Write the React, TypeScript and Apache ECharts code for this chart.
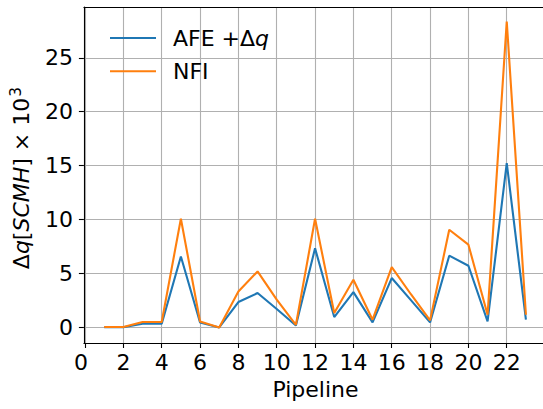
import React, { useEffect, useRef } from "react";
import * as echarts from "echarts";

const pipelines = [1, 2, 3, 4, 5, 6, 7, 8, 9, 10, 11, 12, 13, 14, 15, 16, 17, 18, 19, 20, 21, 22, 23];
const afeValues = [0.05, 0.05, 0.37, 0.37, 6.6, 0.49, 0.03, 2.38, 3.21, 1.73, 0.2, 7.35, 0.99, 3.3, 0.49, 4.6, 2.55, 0.49, 6.67, 5.74, 0.58, 15.25, 0.74];
const nfiValues = [0.06, 0.06, 0.53, 0.53, 10.09, 0.58, 0.03, 3.36, 5.21, 2.6, 0.26, 10.09, 1.36, 4.44, 0.74, 5.62, 3.1, 0.68, 9.07, 7.69, 1.2, 28.36, 1.2];
const xTicks = [0, 2, 4, 6, 8, 10, 12, 14, 16, 18, 20, 22];
const yTicks = [0, 5, 10, 15, 20, 25];
const seriesNames = ["AFE +Δq", "NFI"];

const FONT = "DejaVu Sans";
const FS = 22;

export default function App() {
  const ref = useRef<HTMLDivElement>(null);
  useEffect(() => {
    document.body.style.margin = "0";
    const chart = echarts.init(ref.current!, null, { renderer: "svg" });
    const axisLineStyle = { color: "#000", width: 1.1 };
    const gridLine = { show: true, lineStyle: { color: "#b0b0b0", width: 1.1 } };
    chart.setOption({
      animation: false,
      backgroundColor: "#fff",
      grid: { left: 81.5, top: 7, width: 465.5, bottom: 66, containLabel: false },
      legend: {
        left: 110,
        top: 27,
        padding: 0,
        orient: "vertical",
        itemWidth: 46,
        itemHeight: 24,
        itemGap: 11.2,
        icon: "path://M0,0 L46,0 L46,2 L0,2 Z",
        data: seriesNames,
        formatter: (name: string) =>
          name === seriesNames[0] ? "{a|AFE +Δ}{i|q}" : "{a|NFI}",
        textStyle: {
          padding: [0, 0, 0, 12],
          rich: {
            a: { fontFamily: FONT, fontSize: FS, color: "#000", lineHeight: 24 },
            i: { fontFamily: FONT, fontSize: FS, fontStyle: "italic", color: "#000", lineHeight: 24 },
          },
        },
      },
      xAxis: [
        {
          type: "value",
          min: -0.06,
          max: 24.1,
          name: "Pipeline",
          nameLocation: "middle",
          nameGap: 35,
          nameTextStyle: { fontFamily: FONT, fontSize: FS, color: "#000" },
          axisLine: { show: true, onZero: false, lineStyle: axisLineStyle },
          axisTick: { show: true, length: 5, lineStyle: axisLineStyle, customValues: xTicks },
          axisLabel: {
            fontFamily: FONT,
            fontSize: FS,
            color: "#000",
            margin: 8,
            customValues: xTicks,
            formatter: (v: number) => (v === 0 ? "{z|0}" : String(v)),
            rich: {
              z: { fontFamily: FONT, fontSize: FS, color: "#000", padding: [0, 8, 0, 0] },
            },
          },
          splitLine: gridLine,
        },
        {
          type: "value",
          position: "top",
          min: -0.06,
          max: 24.1,
          axisLine: { show: true, onZero: false, lineStyle: axisLineStyle },
          axisTick: { show: false },
          axisLabel: { show: false },
          splitLine: { show: false },
        },
      ],
      yAxis: {
        type: "value",
        min: -1.415,
        max: 29.7,
        name: "{a|Δ}{i|q}{a|[}{i|SCMH}{a|] × 10}{s|3}",
        nameLocation: "middle",
        nameRotate: 90,
        nameGap: 46,
        nameTextStyle: {
          padding: [0, 6, 0, 0],
          rich: {
            a: { fontFamily: FONT, fontSize: FS, color: "#000", lineHeight: 26 },
            i: { fontFamily: FONT, fontSize: FS, fontStyle: "italic", color: "#000", lineHeight: 26 },
            s: { fontFamily: FONT, fontSize: 15.5, color: "#000", lineHeight: 26, verticalAlign: "top", padding: [0, 0, 10, 1] },
          },
        },
        axisLine: { show: true, onZero: false, lineStyle: axisLineStyle },
        axisTick: { show: true, length: 5, lineStyle: axisLineStyle, customValues: yTicks },
        axisLabel: { fontFamily: FONT, fontSize: FS, color: "#000", margin: 11, customValues: yTicks },
        splitLine: gridLine,
      },
      series: [
        {
          name: seriesNames[0],
          type: "line",
          data: pipelines.map((p, i) => [p, afeValues[i]]),
          showSymbol: false,
          symbol: "none",
          lineStyle: { color: "#1f77b4", width: 2.1 },
          itemStyle: { color: "#1f77b4" },
          z: 2,
        },
        {
          name: seriesNames[1],
          type: "line",
          data: pipelines.map((p, i) => [p, nfiValues[i]]),
          showSymbol: false,
          symbol: "none",
          lineStyle: { color: "#ff7f0e", width: 2.1 },
          itemStyle: { color: "#ff7f0e" },
          z: 3,
        },
      ],
    });
    return () => chart.dispose();
  }, []);
  return (
    <div style={{ width: 543, height: 409, overflow: "hidden", position: "relative" }}>
      <div ref={ref} style={{ width: 547, height: 409 }} />
    </div>
  );
}
